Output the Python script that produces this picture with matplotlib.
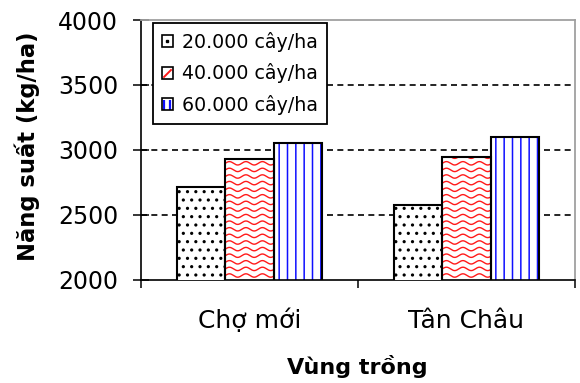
import numpy as np
import matplotlib
matplotlib.use("Agg")
import matplotlib.pyplot as plt
from matplotlib.patches import Patch
from matplotlib.lines import Line2D
from matplotlib.path import Path
from matplotlib.legend_handler import HandlerTuple

# Yield by growing region and planting density
regions = ["Chợ mới", "Tân Châu"]
density_labels = ["20.000 cây/ha", "40.000 cây/ha", "60.000 cây/ha"]
yield_20k = [2715, 2575]
yield_40k = [2925, 2945]
yield_60k = [3050, 3100]

y_ticks = [2000, 2500, 3000, 3500, 4000]

plt.rcParams["font.family"] = ["DejaVu Sans"]
plt.rcParams["hatch.linewidth"] = 1.1

fig = plt.figure(figsize=(5.8, 3.83), dpi=100)
W, H = 580, 383
ax = fig.add_axes([141 / W, 1 - 279.5 / H, 434 / W, 259.5 / H])

x = np.arange(len(regions))
w = 0.223
edge_lw = 1.5
red = "#ff1a1a"
blue = "#1010ff"

# 20.000 cây/ha: dotted bars
ax.bar(x - w, yield_20k, w, facecolor="white", edgecolor="black",
       hatch="..", linewidth=edge_lw, zorder=3)

# 40.000 cây/ha: red wavy texture clipped to each bar
fill40 = ax.bar(x, yield_40k, w, facecolor="white", edgecolor="none",
                linewidth=0, zorder=2)
ax.bar(x, yield_40k, w, fill=False, edgecolor="black", linewidth=edge_lw, zorder=4)
px_x = 1.0 / 217.0        # data units per pixel (x)
px_y = 1000.0 / 129.75    # data units per pixel (y)
for rect in fill40:
    x0, bw, top = rect.get_x(), rect.get_width(), rect.get_height()
    xs = np.linspace(x0, x0 + bw, 200)
    row = 2000 + 4 * px_y
    while row < top + 6 * px_y:
        ys = row + 1.7 * px_y * np.sin(2 * np.pi * (xs - x0) / (16.5 * px_x))
        ln, = ax.plot(xs, ys, color=red, lw=1.0, zorder=3,
                      solid_capstyle="butt")
        ln.set_clip_path(rect)
        row += 6.6 * px_y

# 60.000 cây/ha: blue vertical stripes
ax.bar(x + w, yield_60k, w, facecolor="white", edgecolor=blue,
       hatch="||", linewidth=0, zorder=2)
ax.bar(x + w, yield_60k, w, fill=False, edgecolor="black", linewidth=edge_lw, zorder=4)

# axes, ticks, grid
ax.set_xlim(-0.5, len(regions) - 0.5)
ax.set_ylim(y_ticks[0], y_ticks[-1])
ax.set_yticks(y_ticks)
ax.tick_params(axis="y", direction="inout", length=11, width=1.1,
               labelsize=17, pad=11, colors="black")
ax.set_xticks(x)
ax.set_xticklabels(regions)
ax.tick_params(axis="x", which="major", length=0, labelsize=18, pad=21)
ax.set_xticks(np.arange(-0.5, len(regions), 1.0), minor=True)
ax.tick_params(axis="x", which="minor", direction="out", length=6, width=1.1)

ax.set_axisbelow(True)
ax.yaxis.grid(True, color="black", linewidth=1.2, linestyle=(0, (3.6, 2.6)))
for t in ax.yaxis.get_gridlines():
    t.set_zorder(0.5)
gl = ax.yaxis.get_gridlines()
gl[0].set_visible(False)
gl[-1].set_visible(False)

for side in ("left", "bottom"):
    ax.spines[side].set_color("black")
    ax.spines[side].set_linewidth(1.2)
for side in ("top", "right"):
    ax.spines[side].set_color("#a0a0a0")
    ax.spines[side].set_linewidth(1.3)

# axis titles
fig.text(27 / W, 1 - 146.5 / H, "Năng suất (kg/ha)", rotation=90,
         ha="center", va="center", fontsize=16.3, fontweight="bold")
fig.text(357 / W, 1 - 374 / H, "Vùng trồng", ha="center", va="baseline",
         fontsize=16, fontweight="bold")

# legend keys: small outlined squares with a hint of each texture
slash = Path([[-1, -1], [1, 1]], [Path.MOVETO, Path.LINETO])
bars2 = Path([[-0.62, -1], [-0.62, 1], [0.62, -1], [0.62, 1]],
             [Path.MOVETO, Path.LINETO, Path.MOVETO, Path.LINETO])
box = dict(fill=False, edgecolor="black", linewidth=1.2)
h20 = (Patch(**box),
       Line2D([], [], linestyle="none", marker="s", markersize=1.6,
              markerfacecolor="black", markeredgecolor="black"))
h40 = (Line2D([], [], linestyle="none", marker=slash, markersize=6,
              markeredgecolor=red, markeredgewidth=1.4),
       Patch(**box))
h60 = (Line2D([], [], linestyle="none", marker=bars2, markersize=7,
              markeredgecolor=blue, markeredgewidth=1.6),
       Patch(**box))
leg = ax.legend([h20, h40, h60], density_labels,
                handler_map={tuple: HandlerTuple(ndivide=1, pad=0)},
                loc="upper left", bbox_to_anchor=((153 - 141) / 434, (279.5 - 23) / 259.5),
                borderaxespad=0, fontsize=13.7, handlelength=0.6, handleheight=0.6,
                handletextpad=0.5, labelspacing=0.62, borderpad=0.45,
                fancybox=False, framealpha=1, edgecolor="black")
leg.get_frame().set_linewidth(1.3)
leg.set_zorder(5)

fig.savefig("out.png", dpi=100)
